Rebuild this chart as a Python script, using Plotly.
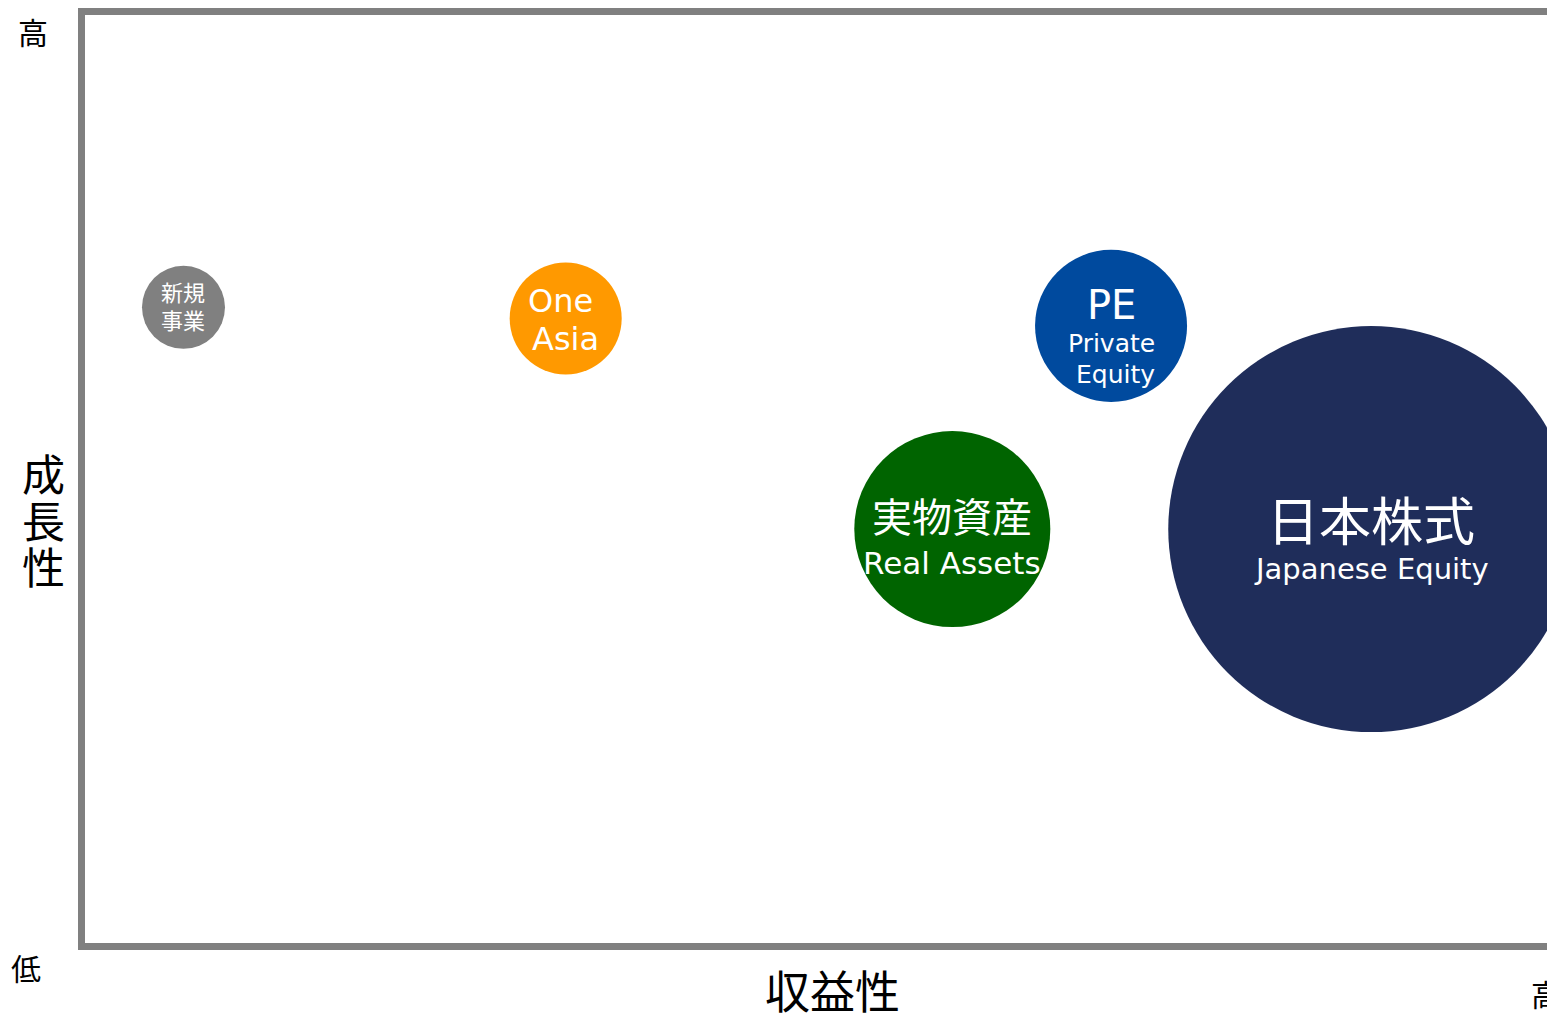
import plotly.graph_objects as go

# ---- data ----
categories = ["新規事業", "One Asia", "PE", "実物資産", "日本株式"]
profitability = [6.7, 32.7, 69.8, 59.0, 87.5]     # 収益性 (0-100)
growth = [68.5, 67.3, 66.5, 44.6, 44.6]           # 成長性 (0-100)
bubble_value = [4.18, 7.61, 14.02, 23.31, 100.0]  # relative size
label_lines = [
    ["新規", "事業"],
    ["One", "Asia"],
    ["PE", "Private", "Equity"],
    ["実物資産", "Real Assets"],
    ["日本株式", "Japanese Equity"],
]
y_axis_title = ["成", "長", "性"]
x_axis_title = "収益性"
high_label = "高"
low_label = "低"

# ---- styles ----
colors = ["#808080", "#FF9900", "#004A9E", "#006400", "#1F2D5A"]
# per-line (font size, x shift px, y offset px below centre)
line_styles = [
    [(22, 0, -13), (22, 0, 15)],
    [(32, -5, -17), (32, 0, 21)],
    [(40, 0, -21), (25, 0, 18), (25, 4, 49)],
    [(40, 0, -11), (31, 0, 34)],
    [(52, 0, -8), (29, 0, 40)],
]
CJK = "Noto Sans CJK JP"
LATIN = "DejaVu Sans, Noto Sans CJK JP"
CJK_ADJ = 3                   # Noto CJK sits a little low when middle-anchored
BODY = 8                      # default page margin around the figure
W, H = 1555 - BODY, 1015 - BODY
ML, MT, MR = 85 - BODY, 13 - BODY, 0
MB = (H + BODY) - 943
MAX_D = 406

fig = go.Figure()
fig.add_trace(go.Scatter(
    x=profitability, y=growth, mode="markers",
    marker=dict(size=bubble_value, sizemode="area",
                sizeref=2 * max(bubble_value) / MAX_D ** 2,
                color=colors, opacity=1, line=dict(width=0)),
    cliponaxis=True, hoverinfo="text", text=categories, showlegend=False,
))

annotations = []
for i, lines in enumerate(label_lines):
    for txt, (fs, dx, dy) in zip(lines, line_styles[i]):
        is_cjk = any(ord(c) > 0x3000 for c in txt)
        annotations.append(dict(
            x=profitability[i], y=growth[i], xref="x", yref="y",
            text=txt, showarrow=False, xshift=dx,
            yshift=-dy + (CJK_ADJ if is_cjk else 0),
            xanchor="center", yanchor="middle",
            font=dict(size=fs, color="white", family=CJK if is_cjk else LATIN),
        ))

pw = W - ML - MR
ph = H - MT - MB


def px2paper(xp, yp):
    # page pixel -> paper coords
    xf, yf = xp - BODY, yp - BODY
    return (xf - ML) / pw, (H - MB - yf) / ph


def side_text(text, xp, yp, size, anchor="center"):
    px_, py_ = px2paper(xp, yp - CJK_ADJ)
    return dict(x=px_, y=py_, xref="paper", yref="paper", text=text,
                showarrow=False, xanchor=anchor, yanchor="middle",
                font=dict(size=size, color="black", family=CJK))


for ch, yp in zip(y_axis_title, [474, 521, 567]):
    annotations.append(side_text(ch, 43, yp, 43))
annotations.append(side_text(x_axis_title, 832, 993, 45))
annotations.append(side_text(high_label, 33, 32, 30))
annotations.append(side_text(low_label, 26, 970, 30))
annotations.append(side_text(high_label, 1529, 996, 30, anchor="left"))

fig.update_layout(
    width=W, height=H,
    margin=dict(l=ML, r=MR, t=MT, b=MB, pad=0),
    paper_bgcolor="white", plot_bgcolor="white",
    xaxis=dict(range=[0, 100], showgrid=False, zeroline=False, showticklabels=False,
               ticks="", showline=True, mirror=True, linewidth=7, linecolor="#808080"),
    yaxis=dict(range=[0, 100], showgrid=False, zeroline=False, showticklabels=False,
               ticks="", showline=True, linewidth=7, linecolor="#808080"),
    annotations=annotations,
    showlegend=False,
)

fig.write_html("out.html")
